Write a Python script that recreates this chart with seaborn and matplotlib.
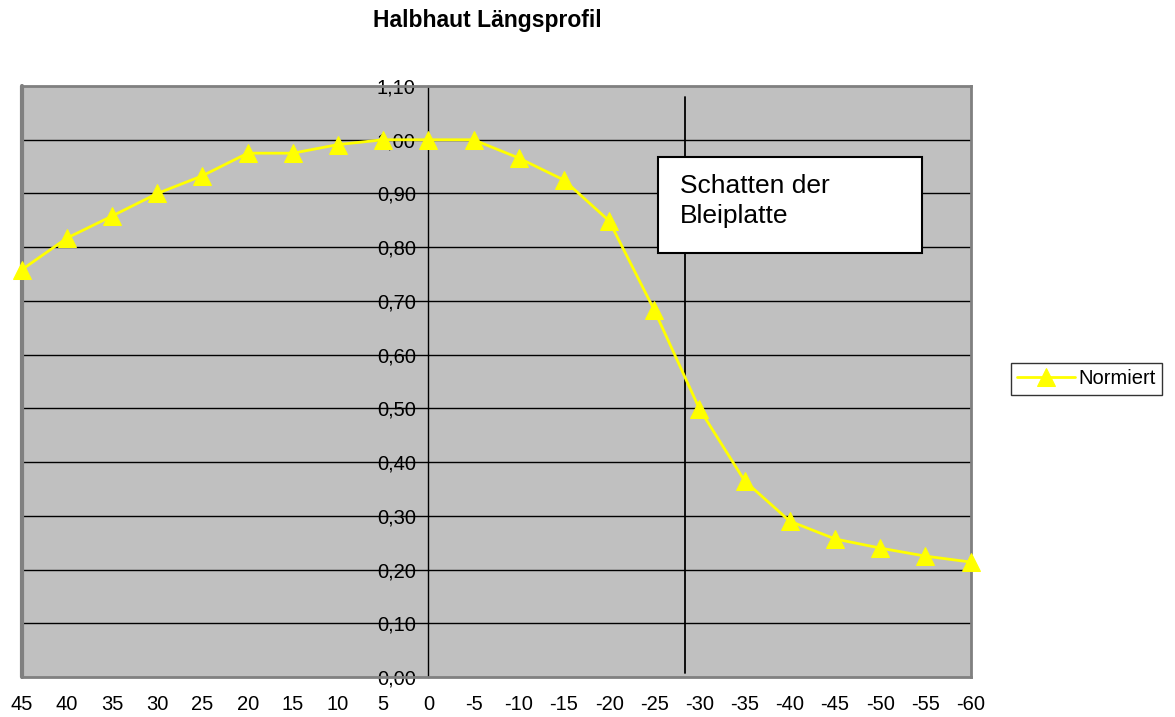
import numpy as np
import pandas as pd
import seaborn as sns
import matplotlib.pyplot as plt
from matplotlib.ticker import FuncFormatter
from matplotlib.patches import Rectangle

# Längsprofil, normierte Werte
positions_mm = [45, 40, 35, 30, 25, 20, 15, 10, 5, 0, -5, -10, -15, -20,
                -25, -30, -35, -40, -45, -50, -55, -60]
normiert = [0.758, 0.817, 0.858, 0.900, 0.933, 0.975, 0.975, 0.991, 1.000,
            1.000, 1.000, 0.966, 0.925, 0.849, 0.683, 0.499, 0.365, 0.290,
            0.257, 0.240, 0.225, 0.214]
shadow_mm = -28.4          # Kante der Bleiplatte
shadow_range = [0.007, 1.08]
title = "Halbhaut Längsprofil"
box_text = "Schatten der\nBleiplatte"

df = pd.DataFrame({"idx": np.arange(len(positions_mm)),
                   "pos": positions_mm, "Normiert": normiert})

sns.set_style("white")
plt.rcParams["font.family"] = ["Liberation Sans", "DejaVu Sans"]
plt.rcParams["text.color"] = "black"
plt.rcParams["xtick.color"] = "black"
plt.rcParams["ytick.color"] = "black"

fig = plt.figure(figsize=(11.75, 7.17), dpi=100)
ax = fig.add_axes([0.0185, 0.0558, 0.8075, 0.8242])
ax.set_facecolor("#c0c0c0")

# horizontale Gitterlinien
for v in np.arange(0.1, 1.01, 0.1):
    ax.axhline(v, color="black", lw=1.0, zorder=1)

sns.lineplot(data=df, x="idx", y="Normiert", ax=ax, color="#ffff00",
             lw=2, marker="^", markersize=13, markeredgecolor="#ffff00",
             label="Normiert", zorder=4, clip_on=False)

# Schatten-Linie
cat_of = lambda mm: (positions_mm[0] - mm) / (positions_mm[0] - positions_mm[1])
ax.plot([cat_of(shadow_mm)] * 2, shadow_range, color="black", lw=1.3, zorder=3)

ax.set_xlim(0, len(positions_mm) - 1)
ax.set_ylim(0, 1.10)
ax.set_xticks(df["idx"])
ax.set_xticklabels([str(p) for p in positions_mm], fontsize=14.5)
ax.set_yticks(np.arange(0, 1.101, 0.1))
ax.yaxis.set_major_formatter(FuncFormatter(lambda v, _: f"{v:.2f}".replace(".", ",")))
ax.tick_params(axis="y", labelsize=14.5, length=6, width=1, direction="out", pad=3)
ax.tick_params(axis="x", length=6, width=1, direction="out", pad=7)
ax.set_xlabel("")
ax.set_ylabel("")

# y-Achse kreuzt bei 0
ax.spines["left"].set_position(("data", cat_of(0)))
ax.spines["left"].set_color("black")
ax.spines["left"].set_linewidth(1)
ax.spines["left"].set_zorder(2)
for s in ["top", "right", "bottom"]:
    ax.spines[s].set_color("#808080")
    ax.spines[s].set_linewidth(2)
# linker Rand als Rahmen
ax.axvline(0, color="#808080", lw=3, zorder=3, clip_on=False)

fig.text(0.415, 1 - 20 / 717, title, ha="center", va="center",
         fontsize=16.5, fontweight="bold")

# Textfeld
fig.patches.append(Rectangle((658 / 1175, 1 - 253 / 717), 264 / 1175, 96 / 717,
                             transform=fig.transFigure, facecolor="white",
                             edgecolor="black", lw=1.5, zorder=6))
fig.text(680 / 1175, 1 - 201 / 717, box_text, ha="left", va="center",
         fontsize=19, linespacing=1.3, zorder=7)

leg = ax.legend(loc="center left", bbox_to_anchor=(1011 / 1175, 1 - 379 / 717),
                bbox_transform=fig.transFigure, fontsize=14.5, frameon=True,
                fancybox=False, edgecolor="black", handlelength=2.9,
                handletextpad=0.15, borderpad=0.3, borderaxespad=0)
leg.get_frame().set_linewidth(1)

fig.savefig("out.png", dpi=100)
